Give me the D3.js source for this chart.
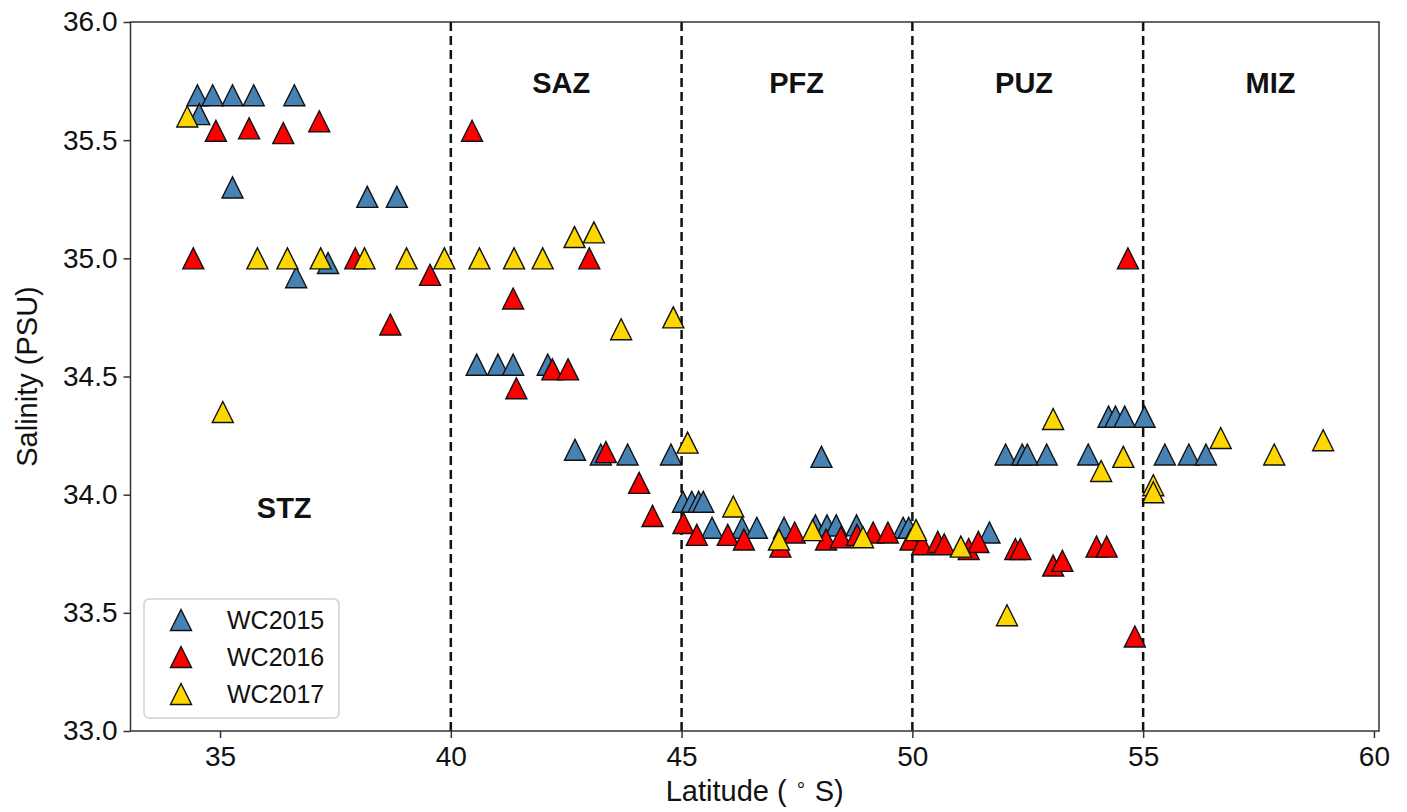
<!DOCTYPE html>
<html>
<head>
<meta charset="utf-8">
<script src="https://cdn.jsdelivr.net/npm/d3@7"></script>
<style>
  body { margin: 0; background: #fff; }
  text { font-family: "Liberation Sans", Arial, sans-serif; fill: #111; }
</style>
</head>
<body>
<div class="chart-container"></div>
<script>
var width = 1407, height = 812,
    margin = {top: 22, bottom: 81, left: 130.5, right: 28};

// WC2015
var lat2015 = [34.51, 34.84, 35.27, 35.73, 36.61, 34.55, 35.27, 38.19, 38.83, 37.34, 36.65,
    40.56, 41.02, 41.35, 42.10, 42.69, 43.25, 43.83, 44.77, 48.03,
    45.03, 45.22, 45.37, 45.47, 45.66, 46.31, 46.63, 47.22, 47.90, 48.15, 48.35, 48.79, 49.80, 49.92, 51.67,
    52.02, 52.38, 52.49, 52.91, 53.81, 54.25, 54.40, 54.60, 55.03, 55.47, 55.99, 56.36];
var sal2015 = [35.69, 35.69, 35.69, 35.69, 35.69, 35.61, 35.30, 35.26, 35.26, 34.98, 34.92,
    34.55, 34.55, 34.55, 34.55, 34.19, 34.17, 34.17, 34.17, 34.16,
    33.97, 33.97, 33.97, 33.97, 33.86, 33.86, 33.86, 33.86, 33.87, 33.87, 33.87, 33.87, 33.86, 33.86, 33.84,
    34.17, 34.17, 34.17, 34.17, 34.17, 34.33, 34.33, 34.33, 34.33, 34.17, 34.17, 34.17];

// WC2016
var lat2016 = [34.91, 35.63, 36.37, 37.15, 40.46, 34.42, 37.93, 39.55, 43.00, 41.35, 38.69,
    42.20, 42.54, 41.42, 43.36, 44.08, 44.37,
    45.04, 45.33, 46.00, 46.35, 47.14, 47.45, 48.13, 48.45, 48.80, 49.15, 49.47,
    49.96, 50.21, 50.55, 50.69, 51.22, 51.43, 52.23, 52.34, 53.05, 53.25, 53.99, 54.21, 54.67, 54.82];
var sal2016 = [35.54, 35.55, 35.53, 35.58, 35.54, 35.00, 35.00, 34.93, 35.00, 34.83, 34.72,
    34.53, 34.53, 34.45, 34.18, 34.05, 33.91,
    33.88, 33.83, 33.83, 33.81, 33.78, 33.84, 33.81, 33.82, 33.83, 33.84, 33.84,
    33.81, 33.79, 33.80, 33.79, 33.77, 33.80, 33.77, 33.77, 33.70, 33.72, 33.78, 33.78, 35.00, 33.40];

// WC2017
var lat2017 = [34.29, 35.06, 35.81, 36.46, 37.18, 38.13, 39.04, 39.86, 40.62, 41.37, 41.99,
    42.68, 43.10, 43.69, 44.82, 45.13, 46.12, 47.11, 47.84, 48.93, 50.08, 51.05, 52.05,
    53.05, 54.09, 54.57, 55.22, 55.22, 56.68, 57.84, 58.90];
var sal2017 = [35.60, 34.35, 35.00, 35.00, 35.00, 35.00, 35.00, 35.00, 35.00, 35.00, 35.00,
    35.09, 35.11, 34.70, 34.75, 34.22, 33.95, 33.81, 33.85, 33.82, 33.85, 33.78, 33.49,
    34.32, 34.10, 34.16, 34.04, 34.01, 34.24, 34.17, 34.23];

var seriesNames = ['WC2015', 'WC2016', 'WC2017'];
var seriesColors = ['#4682b4', '#ff0000', '#ffd700'];

var fronts = [40, 45, 50, 55];
var zoneNames = ['STZ', 'SAZ', 'PFZ', 'PUZ', 'MIZ'];
var zoneLat = [36.39, 42.39, 47.49, 52.42, 57.76];
var zoneSal = [33.90, 35.70, 35.70, 35.70, 35.70];

var xTicks = [35, 40, 45, 50, 55, 60];
var yTicks = [33.0, 33.5, 34.0, 34.5, 35.0, 35.5, 36.0];

var axesWidth = width - margin.left - margin.right,
    axesHeight = height - margin.top - margin.bottom;

var series = [
    {name: seriesNames[0], color: seriesColors[0], lat: lat2015, sal: sal2015},
    {name: seriesNames[1], color: seriesColors[1], lat: lat2016, sal: sal2016},
    {name: seriesNames[2], color: seriesColors[2], lat: lat2017, sal: sal2017}
];

const svg = d3.select('.chart-container')
    .append('svg')
    .attr('width', width)
    .attr('height', height)
    .append('g')
    .attr('transform', `translate(${margin.left},${margin.top})`);

const x = d3.scaleLinear().domain([33.06, 60.11]).range([0, axesWidth]);
const y = d3.scaleLinear().domain([33.0, 36.0]).range([axesHeight, 0]);

// matplotlib style '^' marker, centred on its bounding box
function tri(h) {
    return `M0,${-h}L${h},${h}L${-h},${h}Z`;
}

// front lines
svg.selectAll('.front')
    .data(fronts)
    .join('line')
    .attr('class', 'front')
    .attr('x1', d => x(d)).attr('x2', d => x(d))
    .attr('y1', y(36.0)).attr('y2', y(33.0))
    .attr('stroke', '#111')
    .attr('stroke-width', 2.5)
    .attr('stroke-dasharray', '9,5');

// points
series.forEach(function(s) {
    svg.append('g')
        .selectAll('path')
        .data(s.lat.map((d, i) => [d, s.sal[i]]))
        .join('path')
        .attr('d', tri(10.5))
        .attr('transform', d => `translate(${x(d[0])},${y(d[1])})`)
        .attr('fill', s.color)
        .attr('stroke', '#111')
        .attr('stroke-width', 1.4)
        .attr('stroke-linejoin', 'miter');
});

// zone labels
svg.selectAll('.zone')
    .data(zoneNames)
    .join('text')
    .attr('class', 'zone')
    .attr('x', (d, i) => x(zoneLat[i]))
    .attr('y', (d, i) => y(zoneSal[i]))
    .attr('text-anchor', 'middle')
    .style('font-size', '29px')
    .style('font-weight', 'bold')
    .text(d => d);

// axes
var xAxis = svg.append('g')
    .attr('transform', `translate(0, ${axesHeight})`)
    .call(d3.axisBottom(x).tickValues(xTicks).tickFormat(d3.format('d')).tickSize(7).tickPadding(8));
var yAxis = svg.append('g')
    .call(d3.axisLeft(y).tickValues(yTicks).tickFormat(d3.format('.1f')).tickSize(7).tickPadding(6));
[xAxis, yAxis].forEach(function(a) {
    a.select('.domain').remove();
    a.selectAll('line').attr('stroke', '#333').attr('stroke-width', 1.5);
    a.selectAll('text').style('font-size', '28px').attr('fill', '#111')
        .style('font-family', '"Liberation Sans", Arial, sans-serif');
});

// frame
svg.append('rect')
    .attr('x', 0).attr('y', 0)
    .attr('width', axesWidth).attr('height', axesHeight)
    .attr('fill', 'none')
    .attr('stroke', '#333')
    .attr('stroke-width', 1.5);

// axis labels
var xl = svg.append('text')
    .attr('x', axesWidth / 2)
    .attr('y', axesHeight + 70)
    .attr('text-anchor', 'middle')
    .style('font-size', '29px');
xl.append('tspan').text('Latitude ( ');
xl.append('tspan').attr('dy', -10).style('font-size', '19px').text('\u2218');
xl.append('tspan').attr('dy', 10).text(' S)');

svg.append('text')
    .attr('transform', `translate(${-margin.left + 37}, ${axesHeight / 2}) rotate(-90)`)
    .attr('text-anchor', 'middle')
    .style('font-size', '29px')
    .text('Salinity (PSU)');

// legend
var legend = svg.append('g')
    .attr('transform', `translate(${144 - margin.left}, ${599 - margin.top})`);
legend.append('rect')
    .attr('width', 195).attr('height', 119)
    .attr('rx', 5)
    .attr('fill', '#fff')
    .attr('stroke', '#d0d0d0')
    .attr('stroke-width', 1.5);
series.forEach(function(s, i) {
    var row = legend.append('g').attr('transform', `translate(0, ${21 + i * 37})`);
    row.append('path')
        .attr('d', tri(10.5))
        .attr('transform', 'translate(37, 0)')
        .attr('fill', s.color)
        .attr('stroke', '#111')
        .attr('stroke-width', 1.4);
    row.append('text')
        .attr('x', 83).attr('y', 9)
        .style('font-size', '25px')
        .text(s.name);
});
</script>
</body>
</html>
